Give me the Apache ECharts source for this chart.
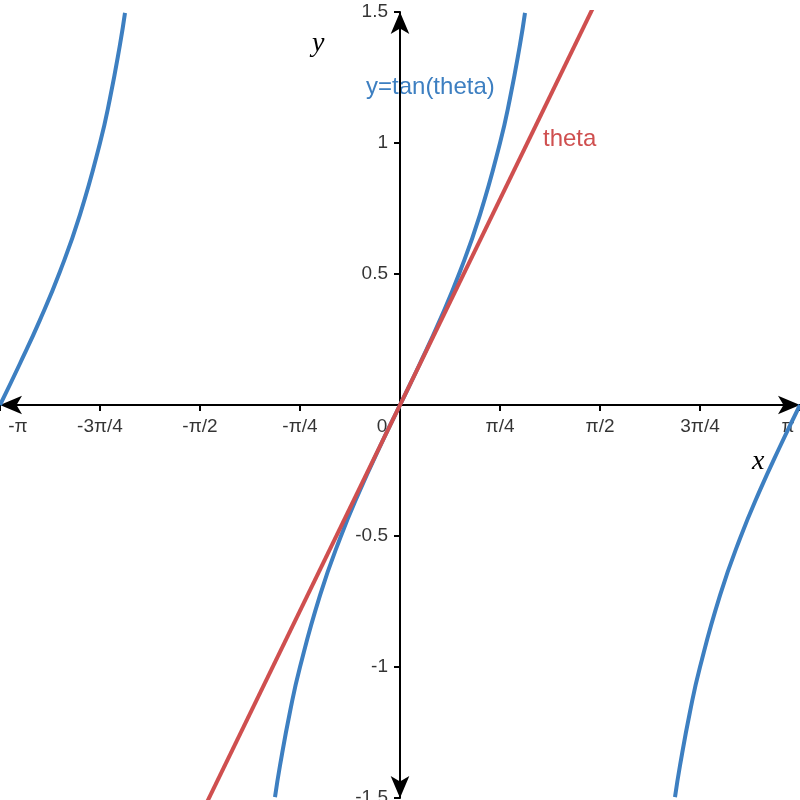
<!DOCTYPE html>
<html><head><meta charset="utf-8">
<script src="https://cdn.jsdelivr.net/npm/echarts@6/dist/echarts.min.js"></script>
<style>html,body{margin:0;padding:0;background:#fff}#c{width:800px;height:800px}</style>
</head><body><div id="c"></div>
<script>
// x in units of pi/4
const xTickVals = [-4,-3,-2,-1,0,1,2,3,4];
const xTickLabels = ['-π','-3π/4','-π/2','-π/4','0','π/4','π/2','3π/4','π'];
const yTickVals = [-1.5,-1,-0.5,0.5,1,1.5];
const yTickLabels = ['-1.5','-1','-0.5','0.5','1','1.5'];
const leftX = [-4,-3.8,-3.6,-3.4,-3.2,-3.0,-2.9,-2.8,-2.75];
const leftY = [0,0.1584,0.3249,0.5095,0.7265,1,1.1708,1.376,1.4966];
const midX = [-1.25,-1.2,-1.1,-1.0,-0.8,-0.6,-0.4,-0.2,0,0.2,0.4,0.6,0.8,1.0,1.1,1.2,1.25];
const midY = [-1.4966,-1.376,-1.1708,-1,-0.7265,-0.5095,-0.3249,-0.1584,0,0.1584,0.3249,0.5095,0.7265,1,1.1708,1.376,1.4966];
const rightX = [2.75,2.8,2.9,3.0,3.2,3.4,3.6,3.8,4];
const rightY = [-1.4966,-1.376,-1.1708,-1,-0.7265,-0.5095,-0.3249,-0.1584,0];
const thetaX = [-2,2];
const thetaY = [-1.5708,1.5708];
const blue='#3d7fc1', red='#cf4f4f';
const zip=(a,b)=>a.map((v,i)=>[v,b[i]]);
const ch=echarts.init(document.getElementById('c'));
const ls={color:'#000',width:2};
const lab={fontSize:19,color:'#000',fontFamily:'Liberation Sans'};
ch.setOption({
  animation:false,
  grid:{left:0,right:0,top:12,bottom:2,outerBoundsMode:'none',containLabel:false},
  xAxis:{type:'value',min:-4,max:4,interval:1,
    axisLine:{onZero:true,lineStyle:ls,symbol:['arrow','arrow'],symbolSize:[14,22]},
    axisTick:{show:true,length:6,lineStyle:ls},
    axisLabel:{show:false},splitLine:{show:false}},
  yAxis:{type:'value',min:-1.5,max:1.5,interval:0.5,
    axisLine:{onZero:true,lineStyle:ls,symbol:['arrow','arrow'],symbolSize:[14,22]},
    axisTick:{show:true,length:6,lineStyle:ls},
    axisLabel:{show:false},splitLine:{show:false}},
  graphic:[
    {type:'text',left:752,top:448,style:{text:'x',font:'italic 28px "Liberation Serif"',fill:'#000'}},
    {type:'text',left:312,top:30,style:{text:'y',font:'italic 28px "Liberation Serif"',fill:'#000'}},
    {type:'text',left:366,top:75,style:{text:'y=tan(theta)',font:'24px "Liberation Sans"',fill:blue}},
    {type:'text',left:543,top:127,style:{text:'theta',font:'24px "Liberation Sans"',fill:red}}
  ],
  series:[
    {type:'line',data:zip(leftX,leftY),smooth:true,showSymbol:false,lineStyle:{color:blue,width:4},clip:true},
    {type:'line',data:zip(midX,midY),smooth:true,showSymbol:false,lineStyle:{color:blue,width:4},clip:true},
    {type:'line',data:zip(rightX,rightY),smooth:true,showSymbol:false,lineStyle:{color:blue,width:4},clip:true},
    {type:'line',data:zip(thetaX,thetaY),showSymbol:false,lineStyle:{color:red,width:4},clip:true},
    {type:'scatter',symbolSize:0,silent:true,clip:false,
      data:xTickVals.map((v,i)=>({value:[v,0],label:{show:true,formatter:xTickLabels[i],
        position:'bottom',distance:12,offset:[i===0?18:(i===8?-12:(i===4?-18:0)),0],...lab}}))},
    {type:'scatter',symbolSize:0,silent:true,clip:false,
      data:yTickVals.map((v,i)=>({value:[0,v],label:{show:true,formatter:yTickLabels[i],
        position:'left',distance:12,...lab}}))}
  ]
});
</script></body></html>
